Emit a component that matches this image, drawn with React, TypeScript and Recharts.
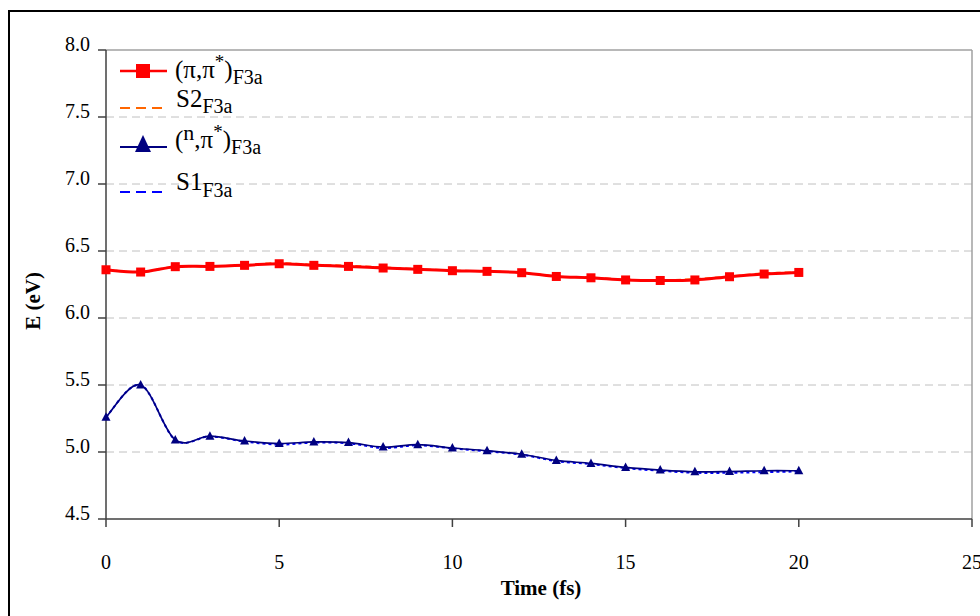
import React from 'react';
import { LineChart, Line, XAxis, YAxis, CartesianGrid, ReferenceLine } from 'recharts';

const times = [0, 1, 2, 3, 4, 5, 6, 7, 8, 9, 10, 11, 12, 13, 14, 15, 16, 17, 18, 19, 20];
const piPiF3a = [6.36, 6.343, 6.383, 6.385, 6.393, 6.405, 6.393, 6.385, 6.373, 6.363, 6.353, 6.348, 6.338, 6.31, 6.3, 6.284, 6.28, 6.284, 6.308, 6.328, 6.34];
const s2F3a = [6.36, 6.343, 6.383, 6.385, 6.395, 6.41, 6.397, 6.39, 6.378, 6.365, 6.355, 6.348, 6.338, 6.31, 6.302, 6.286, 6.282, 6.29, 6.31, 6.333, 6.342];
const nPiF3a = [5.26, 5.5, 5.09, 5.118, 5.082, 5.063, 5.075, 5.07, 5.037, 5.055, 5.03, 5.01, 4.983, 4.937, 4.915, 4.885, 4.865, 4.852, 4.854, 4.86, 4.86];
const s1F3a = [5.26, 5.5, 5.09, 5.116, 5.078, 5.055, 5.07, 5.065, 5.03, 5.05, 5.027, 5.005, 4.98, 4.932, 4.91, 4.88, 4.86, 4.845, 4.845, 4.85, 4.855];
const xTicks = [0, 5, 10, 15, 20, 25];
const yTicks = [4.5, 5.0, 5.5, 6.0, 6.5, 7.0, 7.5, 8.0];

const data = times.map((t, i) => ({ t, a: piPiF3a[i], b: s2F3a[i], c: nPiF3a[i], d: s1F3a[i] }));

const FONT = '"Liberation Serif", "Times New Roman", serif';

// Catmull-Rom style smoothing similar to Excel smoothed lines
const smoothCurve: any = (context: any) => {
  let pts: number[][] = [];
  return {
    areaStart() {},
    areaEnd() {},
    lineStart() { pts = []; },
    point(x: number, y: number) { pts.push([+x, +y]); },
    lineEnd() {
      const n = pts.length;
      if (!n) return;
      context.moveTo(pts[0][0], pts[0][1]);
      for (let i = 0; i < n - 1; i++) {
        const p0 = pts[i - 1] || pts[i];
        const p1 = pts[i];
        const p2 = pts[i + 1];
        const p3 = pts[i + 2] || pts[i + 1];
        const c1x = p1[0] + (p2[0] - p0[0]) / 6;
        const c1y = p1[1] + (p2[1] - p0[1]) / 6;
        const c2x = p2[0] - (p3[0] - p1[0]) / 6;
        const c2y = p2[1] - (p3[1] - p1[1]) / 6;
        context.bezierCurveTo(c1x, c1y, c2x, c2y, p2[0], p2[1]);
      }
    },
  };
};

const SquareDot = (props: any) => {
  const { cx, cy } = props;
  if (cx == null || cy == null) return null;
  return <rect x={cx - 4.5} y={cy - 4.5} width={9} height={9} fill="#FF0000" />;
};

const TriDot = (props: any) => {
  const { cx, cy } = props;
  if (cx == null || cy == null) return null;
  return <path d={`M${cx},${cy - 5} L${cx + 4.5},${cy + 3.5} L${cx - 4.5},${cy + 3.5} Z`} fill="#000080" />;
};

const XTick = (props: any) => {
  const { x, y, payload } = props;
  return (
    <text x={x} y={y + 40} textAnchor="middle" fontFamily={FONT} fontSize={20} fill="#000">
      {payload.value}
    </text>
  );
};

const YTick = (props: any) => {
  const { x, y, payload } = props;
  return (
    <text x={x - 6} y={y + 1} textAnchor="end" fontFamily={FONT} fontSize={20} fill="#000">
      {Number(payload.value).toFixed(1)}
    </text>
  );
};

export default function App() {
  return (
    <div style={{ position: 'fixed', left: 0, top: 0, width: 980, height: 616, overflow: 'hidden', background: '#fff' }}>
      <div style={{ position: 'absolute', left: 8, top: 10, width: 1200, height: 900, border: '2px solid #000', boxSizing: 'border-box' }} />
      <div style={{ position: 'absolute', left: 0, top: 0 }}>
        <LineChart width={980} height={616} data={data} margin={{ top: 50, right: 8, bottom: 0, left: 0 }}>
          <CartesianGrid vertical={false} stroke="#c0c0c0" strokeDasharray="8 5" horizontalValues={[5.0, 5.5, 6.0, 6.5, 7.0, 7.5]} />
          <ReferenceLine y={8} stroke="#a0a0a0" strokeWidth={1.5} />
          <ReferenceLine x={25} stroke="#a0a0a0" strokeWidth={1.5} />
          <XAxis dataKey="t" type="number" domain={[0, 25]} ticks={xTicks} height={97} tickSize={8}
            axisLine={{ stroke: '#404040', strokeWidth: 1.5 }} tickLine={{ stroke: '#404040', strokeWidth: 1.5 }} tick={<XTick />} />
          <YAxis type="number" domain={[4.5, 8]} ticks={yTicks} width={106} tickSize={8}
            axisLine={{ stroke: '#404040', strokeWidth: 1.5 }} tickLine={{ stroke: '#404040', strokeWidth: 1.5 }} tick={<YTick />} />
          <Line dataKey="b" type={smoothCurve} stroke="#FF6600" strokeWidth={2} strokeDasharray="6 4" dot={false} isAnimationActive={false} />
          <Line dataKey="a" type={smoothCurve} stroke="#FF0000" strokeWidth={3} dot={<SquareDot />} isAnimationActive={false} />
          <Line dataKey="d" type={smoothCurve} stroke="#0000FF" strokeWidth={2} strokeDasharray="3 3" dot={false} isAnimationActive={false} />
          <Line dataKey="c" type={smoothCurve} stroke="#000080" strokeWidth={1.7} dot={<TriDot />} isAnimationActive={false} />
        </LineChart>
      </div>
      <svg width={980} height={616} style={{ position: 'absolute', left: 0, top: 0, pointerEvents: 'none' }}>
        <g fontFamily={FONT} fill="#000">
          {/* legend row 1 */}
          <line x1={120} y1={71} x2={167} y2={71} stroke="#FF0000" strokeWidth={2.5} />
          <rect x={136} y={64} width={14} height={14} fill="#FF0000" />
          <text x={175} y={78} fontSize={25}>
            <tspan>(π,π</tspan><tspan dy={-10} fontSize={19}>*</tspan><tspan dy={10}>)</tspan><tspan dy={6} fontSize={20}>F3a</tspan>
          </text>
          {/* legend row 2 */}
          <line x1={120} y1={108} x2={167} y2={108} stroke="#FF6600" strokeWidth={2} strokeDasharray="10 6" />
          <text x={176} y={107} fontSize={25}>
            <tspan>S2</tspan><tspan dy={6} fontSize={20}>F3a</tspan>
          </text>
          {/* legend row 3 */}
          <line x1={120} y1={147} x2={167} y2={147} stroke="#000080" strokeWidth={2} />
          <path d="M143,135 L151,152 L135,152 Z" fill="#000080" />
          <text x={175} y={148} fontSize={25}>
            <tspan>(</tspan><tspan dy={-8} fontSize={22}>n</tspan><tspan dy={8}>,π</tspan><tspan dy={-10} fontSize={19}>*</tspan><tspan dy={10}>)</tspan><tspan dy={6} fontSize={20}>F3a</tspan>
          </text>
          {/* legend row 4 */}
          <line x1={120} y1={192} x2={167} y2={192} stroke="#0000FF" strokeWidth={2} strokeDasharray="10 6" />
          <text x={176} y={190} fontSize={25}>
            <tspan>S1</tspan><tspan dy={7} fontSize={20}>F3a</tspan>
          </text>
          {/* axis titles */}
          <text x={541} y={595} textAnchor="middle" fontSize={21} fontWeight="bold">Time (fs)</text>
          <text x={0} y={0} textAnchor="middle" fontSize={21} fontWeight="bold" transform="translate(40,301) rotate(-90)">E (eV)</text>
        </g>
      </svg>
    </div>
  );
}
